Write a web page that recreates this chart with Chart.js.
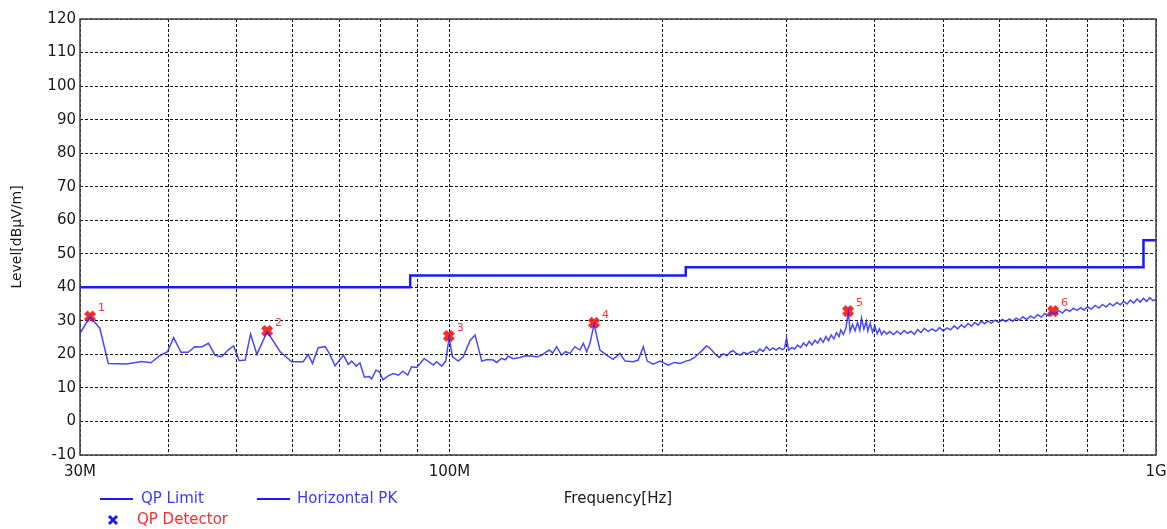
<!DOCTYPE html>
<html>
<head>
<meta charset="utf-8">
<script src="https://cdn.jsdelivr.net/npm/chart.js@4/dist/chart.umd.min.js"></script>
<style>
    html, body { margin: 0; padding: 0; background: #ffffff; }
    #wrap { width: 1167px; height: 529px; }
</style>
</head>
<body>
<div id="wrap"><canvas id="emc-canvas" width="1167" height="529"></canvas></div>
<script>
// frequencies in MHz, levels in dBuV/m
var limitFreq  = [30, 88, 88, 216, 216, 960, 960, 1000];
var limitLevel = [40, 40, 43.5, 43.5, 46, 46, 54, 54];

var pkFreq = [
    30, 31, 32, 32.9, 34.9, 36.7, 37.8, 38.9, 39.9, 40.7,
    41.7, 42.7, 43.6, 44.6, 45.6, 46.6, 47.6, 48.6, 49.5, 50.4,
    51.4, 52.3, 53.4, 55.2, 57.6, 59.8, 62.1, 63.1, 64.0, 65.2,
    66.7, 67.6, 68.9, 70.8, 71.9, 72.7, 73.8, 74.7, 75.8, 77.0,
    77.6, 78.7, 79.6, 80.5, 81.9, 83.3, 84.7, 85.9, 87.3, 88.4,
    89.9, 92.1, 94.9, 95.9, 97.5, 98.8, 99.9, 101.0, 102.9, 104.6,
    106.9, 108.7, 111.1, 113.0, 115.4, 116.6, 118.5, 120.0, 121.1, 123.0,
    125.8, 128.0, 130.7, 133.0, 135.1, 136.8, 138.5, 140.0, 141.8, 144.1,
    146.0, 148.1, 150.5, 153.0, 154.7, 156.4, 158.1, 160.2, 163.3, 166.9,
    170.5, 174.3, 177.2, 182.0, 185.0, 188.1, 190.5, 194.3, 198.6, 204,
    208, 212, 216, 219, 222, 225, 228, 231, 233, 235,
    238, 241, 244, 247, 250, 252, 255, 258, 261, 264,
    266, 269, 272, 275, 278, 281, 284, 287, 290, 293,
    296, 298, 300, 302, 305, 308, 311, 314, 317, 320,
    323, 326, 329, 332, 335, 338, 341, 344, 347, 350,
    353, 356, 358, 361, 364, 367, 369, 372, 375, 378,
    381, 383, 386, 389, 391, 394, 397, 400, 403, 406,
    409, 412, 416, 420, 425, 430, 435, 440, 445, 450,
    455, 460, 465, 470, 476, 482, 488, 494, 500, 506,
    512, 518, 524, 530, 536, 542, 548, 554, 560, 566,
    572, 578, 585, 592, 599, 606, 613, 620, 627, 634,
    641, 648, 656, 664, 672, 680, 688, 696, 704, 712,
    720, 728, 737, 746, 755, 764, 773, 782, 791, 800,
    810, 820, 830, 840, 850, 860, 870, 880, 890, 900,
    910, 920, 930, 940, 950, 960, 970, 980, 990, 1000
];
var pkLevel = [
    26.3, 31.2, 27.8, 17.3, 17.1, 17.9, 17.5, 19.6, 20.8, 25.0,
    20.6, 20.6, 22.3, 22.2, 23.3, 19.7, 19.3, 21.3, 22.5, 18.1,
    18.3, 26.1, 20.0, 26.8, 20.8, 17.8, 17.8, 20.0, 17.3, 22.0,
    22.3, 20.3, 16.6, 19.8, 17.0, 18.0, 16.5, 17.5, 13.2, 13.4,
    12.7, 15.3, 14.8, 12.4, 13.6, 14.3, 13.8, 15.0, 13.8, 16.3,
    16.1, 18.8, 16.8, 17.8, 16.5, 18.0, 25.0, 19.3, 18.0, 19.3,
    24.1, 25.8, 18.0, 18.5, 18.3, 17.6, 18.8, 18.4, 19.5, 18.7,
    19.1, 19.6, 19.5, 19.2, 19.8, 20.6, 21.3, 20.4, 22.3, 19.8,
    20.8, 20.3, 22.3, 21.3, 23.3, 20.8, 23.3, 29.0, 21.3, 19.8,
    18.5, 20.3, 18.0, 17.8, 18.3, 22.3, 18.0, 17.1, 18.0, 16.8,
    17.6, 17.3, 18.0, 18.3, 19.0, 20.1, 21.2, 22.5, 22.1, 21.3,
    20.0, 19.1, 20.2, 19.6, 20.8, 21.1, 20.2, 19.8, 20.6, 20.1,
    20.5, 21.0, 20.4, 21.6, 20.9, 22.3, 21.2, 21.9, 21.3, 22.0,
    21.4, 21.8, 24.8, 21.3, 22.0, 21.6, 22.8, 22.0, 23.4, 22.5,
    23.9, 22.8, 24.2, 23.3, 24.8, 23.6, 25.3, 24.1, 25.8, 24.6,
    26.5, 25.3, 27.3, 26.0, 27.8, 32.7, 26.8, 28.9, 27.0, 29.5,
    27.2, 30.8, 27.5, 29.9, 27.0, 29.3, 26.6, 28.5, 26.2, 27.6,
    25.9, 27.0, 26.1, 26.8, 25.9, 26.9, 26.0, 27.1, 26.3, 26.9,
    26.0, 27.4, 26.5, 27.8, 26.8, 27.6, 26.9, 28.0, 27.0, 27.9,
    27.3, 28.5, 27.6, 28.8, 28.0, 29.2, 28.4, 29.5, 28.7, 29.9,
    29.1, 30.0, 29.3, 30.2, 29.5, 30.4, 29.8, 30.6, 29.9, 30.8,
    30.2, 31.2, 30.4, 31.4, 30.8, 31.8, 31.1, 32.2, 31.5, 32.6,
    32.0, 33.1, 32.3, 33.4, 32.8, 33.8, 33.1, 33.9, 33.2, 34.2,
    33.5, 34.6, 33.8, 34.9, 34.1, 35.2, 34.5, 35.5, 34.8, 35.8,
    35.0, 36.2, 35.3, 36.5, 35.6, 36.7, 35.8, 36.9, 36.0, 36.4
];

var qpFreq   = [31.0, 55.2, 99.8, 160.2, 366.6, 715];
var qpLevel  = [31.3, 27.0, 25.5, 29.4, 32.9, 32.9];
var qpLabels = ['1', '2', '3', '4', '5', '6'];

var gridFreq = [30, 40, 50, 60, 70, 80, 90, 100, 200, 300, 400, 500, 600, 700, 800, 900, 1000];
var freqLabels = { 30: '30M', 100: '100M', 1000: '1G' };

function toPoints(xs, ys) {
    return xs.map(function (x, i) { return { x: x, y: ys[i] }; });
}

var FONT = '"DejaVu Sans", "Liberation Sans", sans-serif';

var frameAndLabels = {
    id: 'frameAndLabels',
    afterDatasetsDraw: function (chart) {
        var ctx = chart.ctx;
        var a = chart.chartArea;
        ctx.save();
        ctx.strokeStyle = '#4a4a4a';
        ctx.lineWidth = 1.6;
        ctx.strokeRect(a.left, a.top, a.right - a.left, a.bottom - a.top);

        // marker numbers
        var meta = chart.getDatasetMeta(2);
        ctx.fillStyle = '#ff3030';
        ctx.font = '11px ' + FONT;
        ctx.textBaseline = 'middle';
        meta.data.forEach(function (p, i) {
            ctx.fillText(qpLabels[i], p.x + 8, p.y - 8);
        });
        ctx.restore();
    },
    afterDraw: function (chart) {
        var ctx = chart.ctx;
        ctx.save();
        ctx.font = '15px ' + FONT;
        ctx.textBaseline = 'middle';

        ctx.strokeStyle = '#1a1aff';
        ctx.lineWidth = 2;
        ctx.beginPath();
        ctx.moveTo(100, 499); ctx.lineTo(133, 499);
        ctx.moveTo(257, 499); ctx.lineTo(290, 499);
        ctx.stroke();
        ctx.fillStyle = '#3a3aff';
        ctx.fillText('QP Limit', 141, 499);
        ctx.fillText('Horizontal PK', 297, 499);

        ctx.strokeStyle = '#1a1aff';
        ctx.lineWidth = 3;
        ctx.beginPath();
        ctx.moveTo(109, 516); ctx.lineTo(117, 524);
        ctx.moveTo(117, 516); ctx.lineTo(109, 524);
        ctx.stroke();
        ctx.fillStyle = '#ff2a2a';
        ctx.fillText('QP Detector', 137, 520);
        ctx.restore();
    }
};

var emcConfig = {
    type: 'line',
    data: {
        datasets: [{
            label: 'QP Limit',
            data: toPoints(limitFreq, limitLevel),
            borderColor: '#1a1aff',
            borderWidth: 2.5,
            pointRadius: 0,
            tension: 0
        }, {
            label: 'Horizontal PK',
            data: toPoints(pkFreq, pkLevel),
            borderColor: 'rgba(40,40,255,0.85)',
            borderWidth: 1.5,
            pointRadius: 0,
            tension: 0
        }, {
            label: 'QP Detector',
            data: toPoints(qpFreq, qpLevel),
            showLine: false,
            pointStyle: 'crossRot',
            pointRadius: 6,
            pointBorderWidth: 5,
            pointBorderColor: 'rgba(255,20,20,0.9)',
            pointBackgroundColor: 'rgba(255,20,20,0.9)'
        }]
    },
    plugins: [frameAndLabels],
    options: {
        responsive: false,
        animation: false,
        layout: { padding: { left: 0, right: 11, top: 19, bottom: 20 } },
        plugins: {
            legend: { display: false },
            tooltip: { enabled: false }
        },
        scales: {
            x: {
                type: 'logarithmic',
                min: 30,
                max: 1000,
                afterBuildTicks: function (scale) {
                    scale.ticks = gridFreq.map(function (v) { return { value: v }; });
                },
                afterFit: function (scale) {
                    scale.height = 54;
                    scale.paddingLeft = 0;
                    scale.paddingRight = 0;
                },
                grid: { color: '#111', lineWidth: 1, drawTicks: false },
                border: { display: false, dash: [3, 2] },
                ticks: {
                    autoSkip: false,
                    maxRotation: 0,
                    padding: 8,
                    color: '#1a1a1a',
                    font: { family: FONT, size: 15 },
                    callback: function (value) { return freqLabels[value] || ''; }
                },
                title: {
                    display: true,
                    text: 'Frequency[Hz]',
                    color: '#1a1a1a',
                    font: { family: FONT, size: 15 },
                    padding: { top: 0, bottom: 1 }
                }
            },
            y: {
                min: -10,
                max: 120,
                afterFit: function (scale) { scale.width = 80; },
                grid: { color: '#111', lineWidth: 1, drawTicks: false },
                border: { display: false, dash: [3, 2] },
                ticks: {
                    stepSize: 10,
                    padding: 4,
                    color: '#1a1a1a',
                    font: { family: FONT, size: 15 }
                },
                title: {
                    display: true,
                    text: 'Level[dBµV/m]',
                    color: '#1a1a1a',
                    font: { family: FONT, size: 14 },
                    padding: { top: 9, bottom: 0 }
                }
            }
        }
    }
};

var ctx = document.getElementById('emc-canvas').getContext('2d');
window.emcChart = new Chart(ctx, emcConfig);
</script>
</body>
</html>
